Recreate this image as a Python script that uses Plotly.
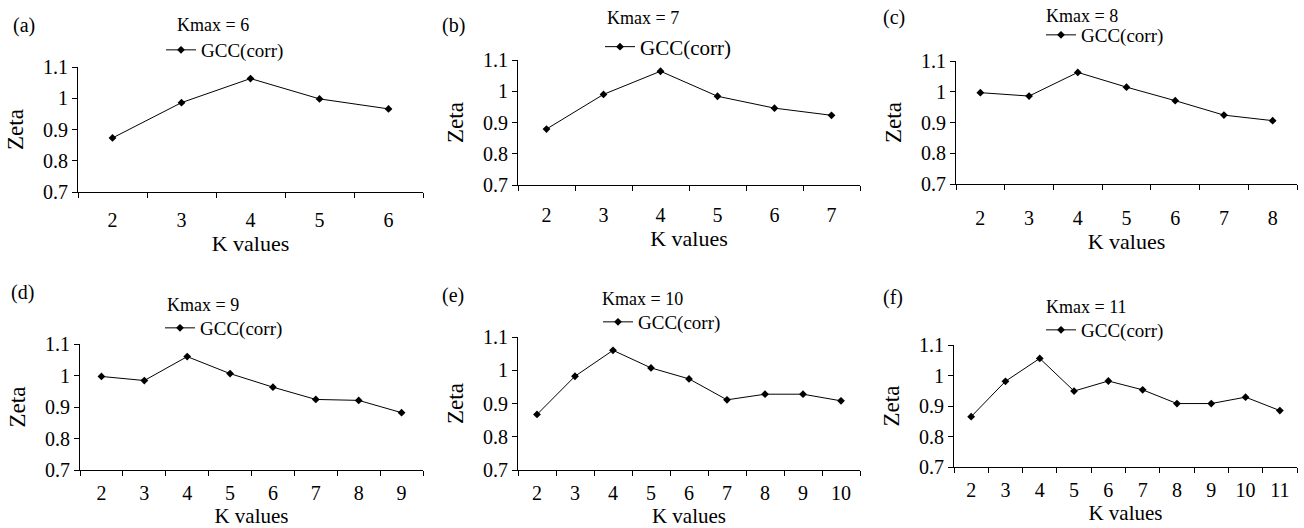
import plotly.graph_objects as go

# ---- data ----
panel_labels = ["(a)", "(b)", "(c)", "(d)", "(e)", "(f)"]
kmax_values = [6, 7, 8, 9, 10, 11]
k_a = ["2", "3", "4", "5", "6"]
k_b = ["2", "3", "4", "5", "6", "7"]
k_c = ["2", "3", "4", "5", "6", "7", "8"]
k_d = ["2", "3", "4", "5", "6", "7", "8", "9"]
k_e = ["2", "3", "4", "5", "6", "7", "8", "9", "10"]
k_f = ["2", "3", "4", "5", "6", "7", "8", "9", "10", "11"]
zeta_a = [0.873, 0.986, 1.063, 0.998, 0.966]
zeta_b = [0.879, 0.990, 1.064, 0.984, 0.946, 0.923]
zeta_c = [0.997, 0.986, 1.063, 1.015, 0.971, 0.924, 0.906]
zeta_d = [0.997, 0.984, 1.060, 1.006, 0.963, 0.924, 0.921, 0.882]
zeta_e = [0.867, 0.982, 1.060, 1.007, 0.974, 0.911, 0.928, 0.928, 0.908]
zeta_f = [0.865, 0.981, 1.056, 0.949, 0.982, 0.953, 0.908, 0.908, 0.929, 0.885]
y_ticks = [0.7, 0.8, 0.9, 1.0, 1.1]
y_ticktext = ["0.7", "0.8", "0.9", "1", "1.1"]
series_name = "GCC(corr)"

ks = [k_a, k_b, k_c, k_d, k_e, k_f]
zetas = [zeta_a, zeta_b, zeta_c, zeta_d, zeta_e, zeta_f]

# ---- layout (pixels) ----
W, H = 1304, 528
# plot areas: (x0, x1, ytop, ybottom)
areas = [
    (78, 423, 67, 192),
    (518, 860, 60, 185),
    (956, 1297, 61, 184),
    (80, 423, 344, 470),
    (518, 860, 337, 470),
    (954, 1297, 345, 467),
]
label_pos = [(24, 25), (453, 25), (894, 18), (22, 292), (453, 295), (893, 297)]
kmax_pos = [(213, 25), (643, 18), (1082, 16), (203, 305), (642, 299), (1086, 307)]
legend_pos = [(173, 50), (612, 47), (1053, 35), (172, 328), (610, 322), (1053, 330)]
legend_font = [19, 21, 19, 19, 19, 19]
xlabel_standoff = [10, 12, 16, 5, 5, 5]
xtitle_standoff = [3, 4, 0, 2, 2, 2]
xtitle_size = [22, 22, 22, 21, 21, 21]

FONT = "Liberation Serif"
TICK_SIZE = 20
YTITLE_SIZE = 23

fig = go.Figure()
layout = dict(
    width=W, height=H,
    margin=dict(l=0, r=0, t=0, b=0, autoexpand=False),
    paper_bgcolor="white", plot_bgcolor="white",
    font=dict(family=FONT, color="black", size=TICK_SIZE),
)
annotations = []

for i in range(6):
    n = i + 1
    xa = "x" if n == 1 else f"x{n}"
    ya = "y" if n == 1 else f"y{n}"
    lg = "legend" if n == 1 else f"legend{n}"
    fig.add_trace(go.Scatter(
        x=ks[i], y=zetas[i], mode="lines+markers", name=series_name,
        xaxis=xa, yaxis=ya, legend=lg,
        line=dict(color="black", width=1),
        marker=dict(symbol="diamond", size=6, color="black"),
    ))
    x0, x1, yt, yb = areas[i]
    xkey = "xaxis" if n == 1 else f"xaxis{n}"
    ykey = "yaxis" if n == 1 else f"yaxis{n}"
    layout[xkey] = dict(
        domain=[x0 / W, x1 / W], anchor=ya, type="category",
        range=[-0.5, len(ks[i]) - 0.5], automargin=True,
        showline=True, linecolor="black", linewidth=1,
        ticks="outside", tickson="boundaries", ticklen=5, tickcolor="black",
        ticklabelstandoff=xlabel_standoff[i],
        showgrid=False, zeroline=False, fixedrange=True,
        tickfont=dict(family=FONT, size=TICK_SIZE),
        title=dict(text="K values", font=dict(family=FONT, size=xtitle_size[i]),
                   standoff=xtitle_standoff[i]),
    )
    layout[ykey] = dict(
        domain=[1 - yb / H, 1 - yt / H], anchor=xa,
        range=[0.7, 1.1], tickvals=y_ticks, ticktext=y_ticktext, automargin=True,
        showline=True, linecolor="black", linewidth=1,
        ticks="outside", ticklen=5, tickcolor="black",
        showgrid=False, zeroline=False, fixedrange=True,
        tickfont=dict(family=FONT, size=TICK_SIZE),
        title=dict(text="Zeta", font=dict(family=FONT, size=YTITLE_SIZE), standoff=12),
    )
    lx, ly = legend_pos[i]
    layout[lg] = dict(
        x=(lx - 12) / W, y=1 - ly / H, xanchor="left", yanchor="middle",
        xref="paper", yref="paper", bgcolor="rgba(0,0,0,0)",
        font=dict(family=FONT, size=legend_font[i]),
        itemwidth=30, tracegroupgap=0,
    )
    px, py = label_pos[i]
    annotations.append(dict(
        text=panel_labels[i], x=px / W, y=1 - py / H, xref="paper", yref="paper",
        showarrow=False, xanchor="center", yanchor="middle",
        font=dict(family=FONT, size=20),
    ))
    kx, ky = kmax_pos[i]
    annotations.append(dict(
        text=f"Kmax = {kmax_values[i]}", x=kx / W, y=1 - ky / H,
        xref="paper", yref="paper", showarrow=False,
        xanchor="center", yanchor="middle",
        font=dict(family=FONT, size=18),
    ))

layout["annotations"] = annotations
layout["showlegend"] = True
fig.update_layout(**layout)
fig.write_html(
    "out.html",
    config={"displayModeBar": False},
    post_script="document.body.style.margin='0';document.body.style.overflow='hidden';",
)
